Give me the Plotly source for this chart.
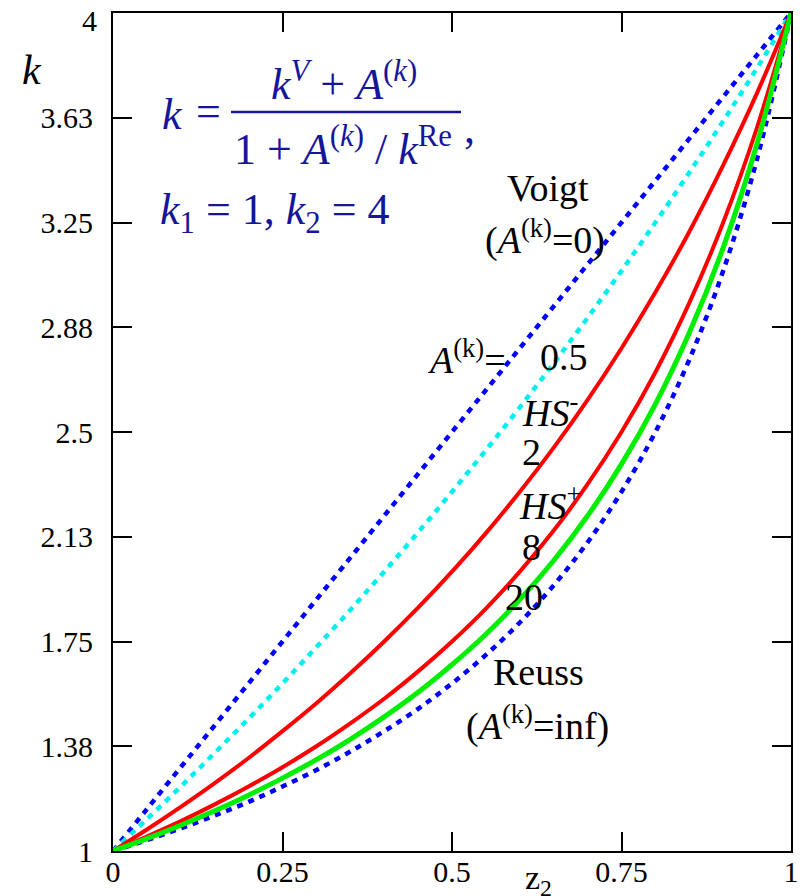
import plotly.graph_objects as go

# Effective conductivity k(z2) for a two-phase mix, k1 = 1, k2 = 4
z2 = [0, 0.05, 0.1, 0.15, 0.2, 0.25, 0.3, 0.35, 0.4, 0.45, 0.5,
      0.55, 0.6, 0.65, 0.7, 0.75, 0.8, 0.85, 0.9, 0.95, 1]

k_voigt = [1, 1.15, 1.3, 1.45, 1.6, 1.75, 1.9, 2.05, 2.2, 2.35, 2.5,
           2.65, 2.8, 2.95, 3.1, 3.25, 3.4, 3.55, 3.7, 3.85, 4]
k_a05 = [1, 1.114, 1.231, 1.351, 1.474, 1.6, 1.730, 1.863, 2.0, 2.141, 2.286,
         2.435, 2.588, 2.746, 2.909, 3.077, 3.25, 3.429, 3.613, 3.803, 4]
k_hs_minus = [1, 1.077, 1.158, 1.243, 1.333, 1.429, 1.529, 1.636, 1.75, 1.871, 2.0,
              2.138, 2.286, 2.444, 2.615, 2.8, 3.0, 3.217, 3.455, 3.714, 4]
k_hs_plus = [1, 1.052, 1.107, 1.167, 1.231, 1.3, 1.375, 1.457, 1.545, 1.643, 1.75,
             1.868, 2.0, 2.147, 2.313, 2.5, 2.714, 2.962, 3.25, 3.591, 4]
k_a20 = [1, 1.044, 1.092, 1.144, 1.2, 1.261, 1.327, 1.4, 1.48, 1.568, 1.667,
         1.776, 1.9, 2.04, 2.2, 2.385, 2.6, 2.855, 3.16, 3.533, 4]
k_reuss = [1, 1.039, 1.081, 1.127, 1.176, 1.231, 1.290, 1.356, 1.429, 1.509, 1.6,
           1.702, 1.818, 1.951, 2.105, 2.286, 2.5, 2.759, 3.077, 3.478, 4]

# the top label "4" sits a little below its tick, so it is drawn separately
y_tick_vals = [1, 1.375, 1.75, 2.125, 2.5, 2.875, 3.25, 3.625, 4]
y_tick_text = ["1", "1.38", "1.75", "2.13", "2.5", "2.88", "3.25", "3.63", ""]
y_top_label = "4"
x_tick_vals = [0, 0.25, 0.5, 0.75, 1]
x_tick_text = ["0", "0.25", "0.5", "0.75", "1"]

SERIF = "Liberation Serif"
NAVY = "#16169a"

W, H = 803, 896
L, R, T, B = 113, 12, 13, 45
PW, PH = W - L - R, H - T - B


def px(x):
    return (x - L) / PW


def py(y):
    return (H - B - y) / PH


fig = go.Figure()

curves = [
    (k_voigt, "#0000ff", 4.5, "6px,6px"),
    (k_a05, "#00f0f0", 4.5, "6px,6px"),
    (k_hs_minus, "#ff0000", 4, "solid"),
    (k_hs_plus, "#ff0000", 4, "solid"),
    (k_reuss, "#0000ff", 4.5, "6px,6px"),
    (k_a20, "#00ee00", 5, "solid"),
]
for ys, color, width, dash in curves:
    fig.add_trace(go.Scatter(
        x=z2, y=ys, mode="lines",
        line=dict(color=color, width=width, dash=dash, shape="spline"),
        showlegend=False, hoverinfo="skip",
    ))

axis_common = dict(
    showline=True, linecolor="black", linewidth=2, mirror="ticks",
    ticks="inside", ticklen=19, tickwidth=2, tickcolor="black",
    showgrid=False, zeroline=False, automargin=False,
    ticklabeloverflow="allow",
    tickfont=dict(family=SERIF, size=30, color="black"),
)
fig.update_xaxes(range=[0, 1], tickvals=x_tick_vals, ticktext=x_tick_text,
                 ticklabelstandoff=-7, **axis_common)
fig.update_yaxes(range=[1, 4], tickvals=y_tick_vals, ticktext=y_tick_text,
                 ticklabelstandoff=12, **axis_common)

annotations = []


def label(x, y, text, size=38, color="black", xanchor="center"):
    annotations.append(dict(
        x=px(x), y=py(y), xref="paper", yref="paper", text=text,
        showarrow=False, xanchor=xanchor, yanchor="middle",
        font=dict(family=SERIF, size=size, color=color),
    ))


# axis titles and the top tick label
label(32, 70, "<i>k</i>", size=42)
label(538, 880, "z<sub>2</sub>", size=34)
label(99, 21, y_top_label, size=30, xanchor="right")

# curve labels
label(548, 188, "Voigt")
label(545, 238, "(<i>A</i><sup>(k)</sup>=0)")
label(466, 357, "<i>A</i><sup>(k)</sup>=")
label(564, 357, "0.5")
label(550, 410, "<i>HS</i><sup>-</sup>")
label(531, 452, "2")
label(550, 503, "<i>HS</i><sup>+</sup>")
label(531, 547, "8")
label(524, 597, "20")
label(538, 672, "Reuss")
label(537, 723, "(<i>A</i><sup>(k)</sup>=inf)")

# formula block
label(172, 115, "<i>k</i>", size=44, color=NAVY)
label(208, 112, "=", size=44, color=NAVY)
label(344, 82, "<i>k</i><sup><i>V</i></sup> + <i>A</i><sup>(<i>k</i>)</sup>",
      size=44, color=NAVY)
label(343, 146, "1 + <i>A</i><sup>(<i>k</i>)</sup> / <i>k</i><sup>Re</sup>",
      size=44, color=NAVY)
label(469, 128, ",", size=44, color=NAVY)
label(158, 212, "<i>k</i><sub>1</sub> = 1, <i>k</i><sub>2</sub> = 4",
      size=44, color=NAVY, xanchor="left")

fig.add_shape(type="line", xref="paper", yref="paper",
              x0=px(231), x1=px(461), y0=py(112), y1=py(112),
              line=dict(color=NAVY, width=2.5))

fig.update_layout(
    width=W, height=H,
    margin=dict(l=L, r=R, t=T, b=B),
    paper_bgcolor="white", plot_bgcolor="white",
    annotations=annotations,
)

fig.write_html("out.html")
